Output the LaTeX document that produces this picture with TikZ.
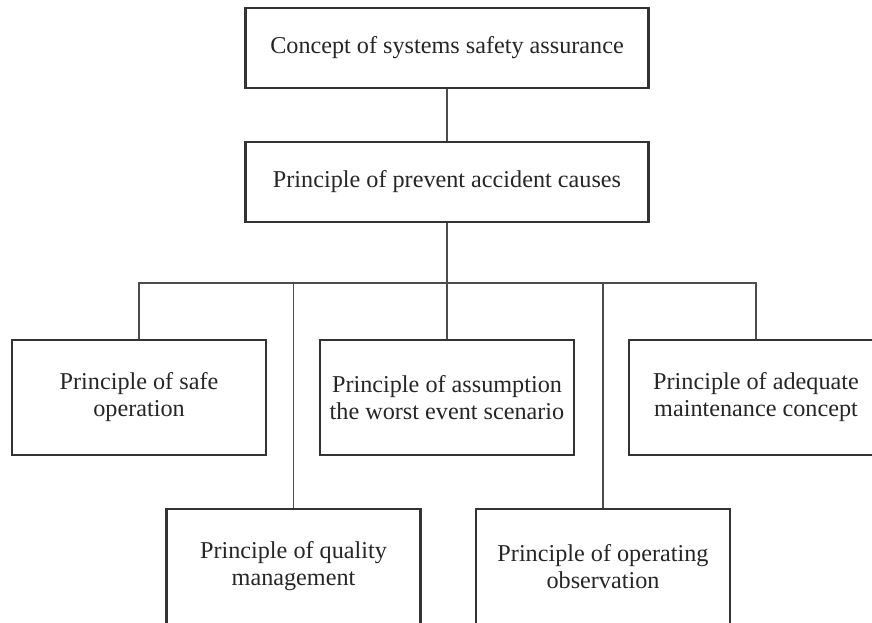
\documentclass[tikz,border=0pt]{standalone}
\usepackage{fontspec}
\setmainfont{Liberation Serif}
\begin{document}
\begin{tikzpicture}[x=1pt,y=-1pt,
    box/.style={draw=black!80,line width=2.4pt,fill=white,align=center,
      inner sep=0pt,text=black!85,font=\fontsize{24.2}{27}\selectfont},
    wide/.style={box,minimum width=403pt,minimum height=80pt},
    leaf/.style={box,minimum width=254pt,minimum height=115pt},
    link/.style={draw=black!70,line width=1.3pt}]
    \useasboundingbox (0,0) rectangle (872,623);
    \clip (0,0) rectangle (872,623);
    \coordinate (bus) at (447,283);
    \node[wide] (concept) at (447,48) {Concept of systems safety assurance};
    \node[wide] (prevent) at (447,182) {Principle of prevent accident causes};
    \node[leaf] (safe) at (139,397.5) {Principle of safe\\operation};
    \node[leaf] (worst) at (447,397.5) {Principle of assumption\\the worst event scenario};
    \node[leaf] (maint) at (756,397.5) {Principle of adequate\\maintenance concept};
    \node[leaf] (quality) at (293.5,566.5) {Principle of quality\\management};
    \node[leaf] (observe) at (603,566.5) {Principle of operating\\observation};
    \draw[link] (concept) -- (prevent);
    \draw[link] (prevent) -- (worst);
    \draw[link] (safe.north) |- (bus) -| (maint.north);
    \draw[link] (quality.north) -- (quality.north |- bus);
    \draw[link] (observe.north) -- (observe.north |- bus);
\end{tikzpicture}
\end{document}
